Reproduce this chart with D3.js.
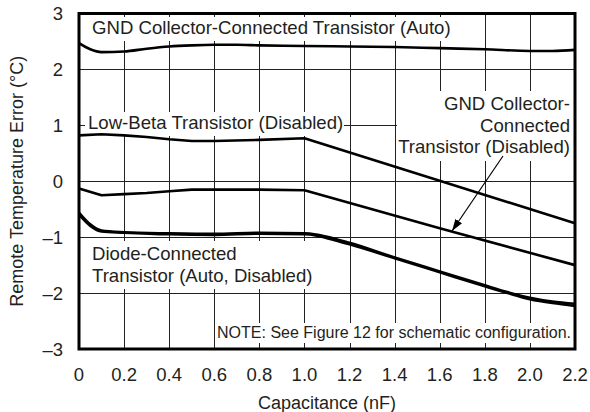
<!DOCTYPE html>
<html><head><meta charset="utf-8">
<script src="https://cdn.jsdelivr.net/npm/d3@7"></script>
<style>body{margin:0;background:#fff}svg{display:block}text{font-family:"Liberation Sans",Arial,Helvetica,sans-serif;fill:#231f20}</style>
</head><body><svg id="c" width="590" height="412"></svg>
<script>
const xTicks = [0,0.2,0.4,0.6,0.8,1.0,1.2,1.4,1.6,1.8,2.0,2.2];
const xTickLabels = ["0","0.2","0.4","0.6","0.8","1.0","1.2","1.4","1.6","1.8","2.0","2.2"];
const yTicks = [-3,-2,-1,0,1,2,3];
const yTickLabels = ["–3","–2","–1","0","1","2","3"];

const capGndAuto = [0,0.05,0.1,0.2,0.3,0.4,0.5,0.6,0.7,0.8,1.0,1.2,1.4,1.6,1.8,2.0,2.1,2.2];
const errGndAuto = [2.47,2.36,2.31,2.32,2.37,2.41,2.43,2.44,2.44,2.43,2.42,2.41,2.40,2.38,2.36,2.33,2.33,2.35];

const capLowBeta = [0,0.1,0.2,0.3,0.4,0.5,0.6,0.8,1.0,2.2];
const errLowBeta = [0.82,0.84,0.82,0.79,0.75,0.72,0.72,0.74,0.77,-0.75];

const capGndDis = [0,0.1,0.2,0.3,0.4,0.5,0.6,0.8,1.0,1.6,2.2];
const errGndDis = [-0.13,-0.25,-0.23,-0.21,-0.18,-0.15,-0.15,-0.15,-0.16,-0.84,-1.5];

const capDiode = [0,0.05,0.1,0.2,0.4,0.6,0.8,1.0,1.05,1.1,1.2,1.4,1.6,1.8,1.9,2.0,2.1,2.2];
const errDiodeAuto = [-0.56,-0.77,-0.88,-0.91,-0.93,-0.94,-0.92,-0.93,-0.95,-0.99,-1.1,-1.36,-1.61,-1.86,-1.98,-2.08,-2.15,-2.19];
const errDiodeDis = [-0.6,-0.8,-0.9,-0.92,-0.95,-0.96,-0.94,-0.95,-0.97,-1.02,-1.13,-1.38,-1.63,-1.88,-2.0,-2.11,-2.18,-2.23];

const svg = d3.select("#c");
const L=79, R=575, T=13.5, B=349;
const x = d3.scaleLinear().domain([0,2.2]).range([L,R]);
const y = d3.scaleLinear().domain([-3,3]).range([B,T]);

// grid
const g = svg.append("g");
g.selectAll(".vx").data(xTicks).join("line")
  .attr("x1",d=>Math.round(x(d))+0.5).attr("x2",d=>Math.round(x(d))+0.5)
  .attr("y1",T).attr("y2",B).attr("stroke","#222").attr("stroke-width",1);
g.selectAll(".hy").data(yTicks).join("line")
  .attr("y1",d=>Math.round(y(d))+0.5).attr("y2",d=>Math.round(y(d))+0.5)
  .attr("x1",L).attr("x2",R).attr("stroke","#222").attr("stroke-width",1);

// white label boxes
const boxes = [[88,17,363,24],[85,112,259,24],[397,91,178,70],[88,241,224,48],[216,323,358,20]];
svg.selectAll(".bx").data(boxes).join("rect")
  .attr("x",d=>d[0]).attr("y",d=>d[1]).attr("width",d=>d[2]).attr("height",d=>d[3]).attr("fill","#fff");

// curves
const line = d3.line().x(d=>x(d[0])).y(d=>y(d[1])).curve(d3.curveMonotoneX);
const lineLin = d3.line().x(d=>x(d[0])).y(d=>y(d[1]));
const zip=(a,b)=>a.map((v,i)=>[v,b[i]]);
svg.append("path").attr("d",line(zip(capGndAuto,errGndAuto))).attr("fill","none").attr("stroke","#000").attr("stroke-width",2.6);
svg.append("path").attr("d",lineLin(zip(capLowBeta,errLowBeta))).attr("fill","none").attr("stroke","#000").attr("stroke-width",2.6).attr("stroke-linejoin","round");
svg.append("path").attr("d",lineLin(zip(capGndDis,errGndDis))).attr("fill","none").attr("stroke","#000").attr("stroke-width",2.6).attr("stroke-linejoin","round");
svg.append("path").attr("d",line(zip(capDiode,errDiodeAuto))).attr("fill","none").attr("stroke","#000").attr("stroke-width",2.4);
svg.append("path").attr("d",line(zip(capDiode,errDiodeDis))).attr("fill","none").attr("stroke","#000").attr("stroke-width",2.4);

// border
svg.append("rect").attr("x",L).attr("y",T).attr("width",R-L).attr("height",B-T)
  .attr("fill","none").attr("stroke","#000").attr("stroke-width",3);

// arrow
svg.append("defs").append("marker").attr("id","ah").attr("viewBox","0 0 12 8").attr("refX",12).attr("refY",4)
  .attr("markerWidth",12).attr("markerHeight",8).attr("markerUnits","userSpaceOnUse").attr("orient","auto")
  .append("path").attr("d","M0,0L12,4L0,8Z").attr("fill","#000");
svg.append("line").attr("x1",503).attr("y1",156).attr("x2",452).attr("y2",231)
  .attr("stroke","#000").attr("stroke-width",1.2).attr("marker-end","url(#ah)");

// tick labels
svg.selectAll(".xl").data(xTicks).join("text").attr("x",d=>x(d)).attr("y",380.5)
  .attr("text-anchor","middle").attr("font-size",18.5).text((d,i)=>xTickLabels[i]);
svg.selectAll(".yl").data(yTicks).join("text").attr("x",63).attr("y",d=>y(d)+6.5)
  .attr("text-anchor","end").attr("font-size",18.5).text((d,i)=>yTickLabels[i]);

// axis titles
svg.append("text").attr("x",(L+R)/2).attr("y",409).attr("text-anchor","middle").attr("font-size",18).text("Capacitance (nF)");
svg.append("text").attr("transform",`translate(23,${(T+B)/2}) rotate(-90)`).attr("text-anchor","middle").attr("font-size",18).text("Remote Temperature Error (°C)");

// labels
const lab=(t,xx,yy,anchor,fs)=>svg.append("text").attr("x",xx).attr("y",yy).attr("text-anchor",anchor||"start").attr("font-size",fs||18.6).text(t);
lab("GND Collector-Connected Transistor (Auto)",92,34);
lab("Low-Beta Transistor (Disabled)",88,129);
lab("GND Collector-",570,110,"end");
lab("Connected",570,131.5,"end");
lab("Transistor (Disabled)",570,153,"end");
lab("Diode-Connected",92,260);
lab("Transistor (Auto, Disabled)",92,281.5);
lab("NOTE: See Figure 12 for schematic configuration.",571,338,"end",16);
</script></body></html>
